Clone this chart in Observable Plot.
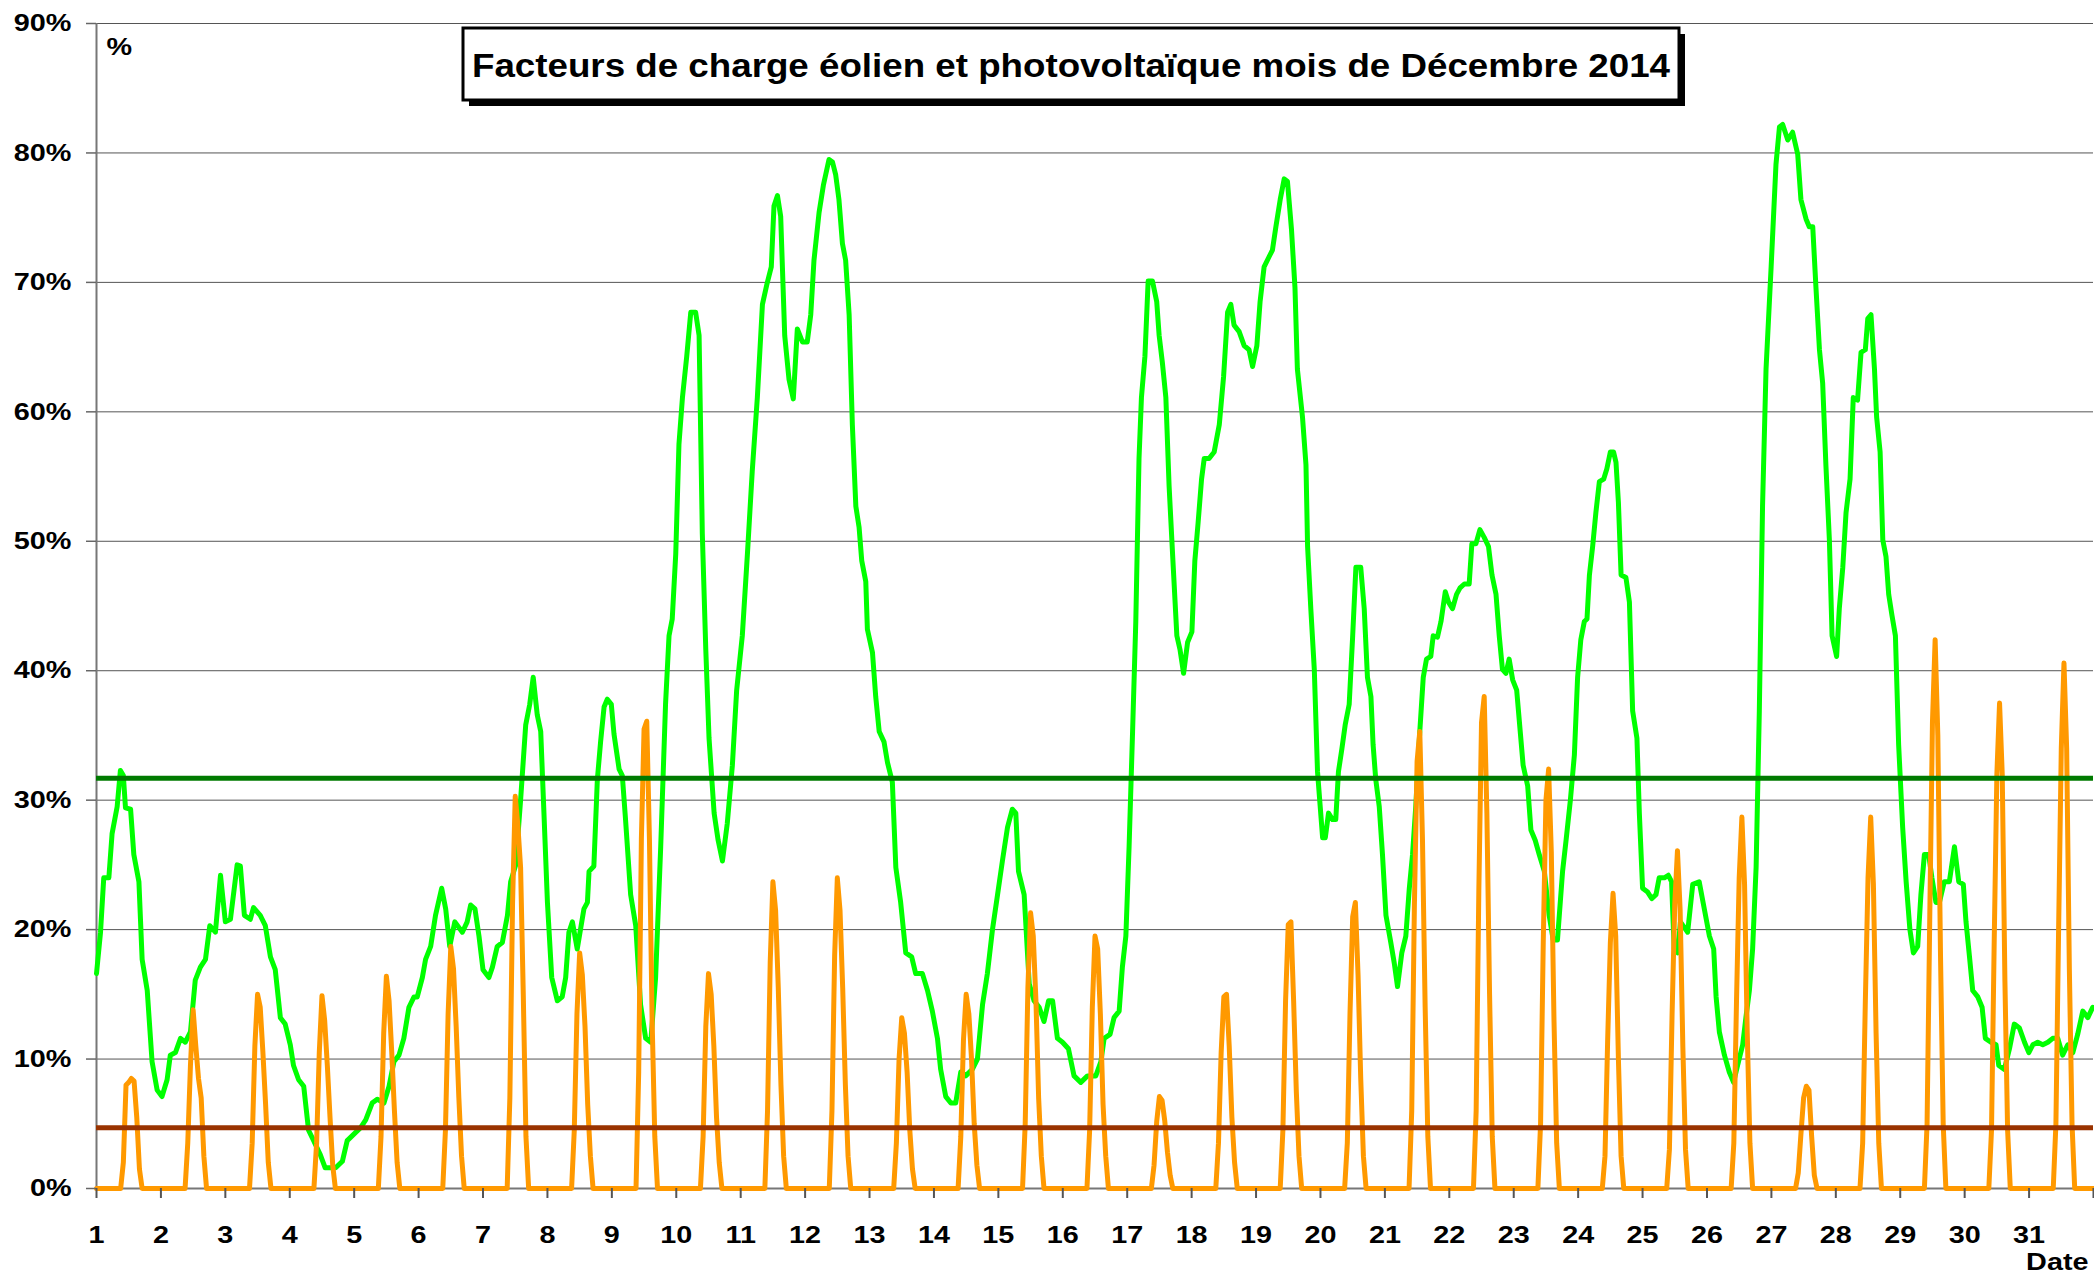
<!DOCTYPE html>
<html><head><meta charset="utf-8">
<script src="https://cdn.jsdelivr.net/npm/d3@7"></script>
<script src="https://cdn.jsdelivr.net/npm/@observablehq/plot@0.6"></script>
<style>
html,body{margin:0;padding:0;background:#fff;}
#chart{position:relative;width:2094px;height:1276px;overflow:hidden;}
</style></head><body><div id="chart"></div>
<script>
// ---------- DATA ----------
const chartTitle = "Facteurs de charge éolien et photovoltaïque mois de Décembre 2014";
const unitLabel = "%";
const xLabel = "Date";
const dayTicks = d3.range(1, 33);          // tick marks 1..32 (labels 1..31)
const dayLabels = d3.range(1, 32);
const yTicks = d3.range(0, 91, 10);        // 0%..90%
const windMean = 31.7;                     // mean wind load factor (%)
const solarMean = 4.7;                     // mean PV load factor (%)

// Wind load factor: [hours since 1 Dec 00:00, %]
const windSeries = [
[0,16.6],[1.5,19.8],[2.7,24],[4.6,24],[5.8,27.4],[7.7,29.5],[8.9,32.3],[10,31.9],[10.8,29.4],[12.7,29.3],[13.9,25.8],[15.8,23.7],[17,17.7],[18.9,15.3],[20.7,9.8],[22.6,7.6],
[24.4,7.1],[26.3,8.4],[27.5,10.3],[29.4,10.5],[31.3,11.6],[33.1,11.3],[35,12.1],[36.8,16.1],[38.7,17.1],[40.6,17.7],[42.2,20.3],[44.3,19.8],[46.2,24.2],
[48,20.6],[49.9,20.8],[52.4,25],[53.6,24.9],[55.1,21.1],[57.3,20.8],[58.5,21.7],[61,21.1],[62.9,20.3],[64.8,17.9],[66.6,16.9],[68.5,13.2],[70.3,12.7],
[72.2,11.1],[73.4,9.5],[75.3,8.4],[77.2,7.9],[79,4.5],[80.9,3.7],[83.4,2.6],[85.2,1.6],[87.1,1.6],[89.1,1.6],[91.6,2.1],[93.4,3.7],[95.9,4.2],
[98.4,4.7],[100.3,5.3],[102.7,6.6],[104.6,6.9],[107.1,6.6],[109,7.9],[110.8,9.8],[112.7,10.3],[114.5,11.6],[116.4,14],[118.3,14.8],[119.5,14.8],
[121.4,16.3],[122.6,17.7],[124.5,18.7],[126.3,21.1],[128.6,23.2],[130.1,21.6],[131.6,18.7],[133.5,20.6],[136.3,19.8],[138.1,20.6],[139.4,21.9],[141,21.6],
[142.5,19.5],[144,16.9],[146.2,16.3],[147.5,17.1],[149.3,18.7],[151.2,19],[153.1,21.1],[154.3,23.7],[156.2,25],[158,30],[159.9,35.8],[161.4,37.4],
[162.7,39.5],[164.2,36.6],[165.5,35.3],[166.7,29],[168,22.1],[169.6,16.3],[171.7,14.5],[173.5,14.8],[174.8,16.3],[176,19.8],[177.3,20.6],[179.1,18.5],
[181.6,21.6],[182.9,22.1],[183.5,24.5],[185.3,24.9],[186.6,31.6],[187.8,34.5],[189.1,37.2],[190.3,37.8],[191.8,37.4],[192.8,35.1],[194.7,32.4],[195.9,31.9],
[197.1,28.5],[199,22.7],[200.9,20.3],[202.7,14.2],[204.6,11.6],[206.5,11.3],[208.3,16.3],[210.2,26.4],[212,37.4],[213.3,42.7],[214.5,44],[215.8,49],
[217,57.5],[218.3,61.1],[219.9,64.3],[221.4,67.7],[223.2,67.7],[224.5,65.9],[225.7,50.6],[227,41.6],[228.2,34.8],[230.1,29],[231.6,26.9],[233.2,25.3],
[235,28.2],[236.9,32.7],[238.5,38.5],[240.6,42.7],[242.5,49],[244.3,55.4],[246.2,61.1],[248.1,68.3],[249.7,69.8],[251.4,71.2],[252.4,75.9],[253.7,76.7],
[254.9,75.1],[256.4,65.9],[258,62.5],[259.6,61],[261.1,66.4],[263,65.4],[264.8,65.4],[266.1,67.5],[267.3,71.7],[269.2,75.4],[270.8,77.5],
[272.9,79.5],[274.2,79.3],[275.4,78.3],[276.6,76.4],[277.9,73],[279.1,71.7],[280.4,67.5],[281.6,59],[282.9,52.7],[284.1,51.1],[285.1,48.5],[286.6,46.9],
[287.2,43.2],[289.1,41.4],[290.3,38],[291.6,35.3],[293.4,34.5],[294.7,32.9],[296.5,31.4],[297.8,24.8],[299.6,22.1],[301.5,18.2],[303.7,17.9],[305.2,16.6],
[307.7,16.6],[309.6,15.3],[311.4,13.7],[313.3,11.6],[314.5,9.2],[316.4,7.1],[318.3,6.6],[320.1,6.6],[322,9],[323.8,8.7],[326.3,9.2],[328.2,10],
[330.1,14.2],[331.9,16.6],[333.8,20],[335.7,22.7],[337.5,25.3],[339.4,27.9],[341.2,29.3],[342.5,29],[343.5,24.5],[345.6,22.7],[347.5,15.8],[349.3,14.5],
[351.2,14],[353,12.9],[354.7,14.5],[356.2,14.5],[358,11.6],[359.9,11.3],[362.1,10.8],[364.2,8.7],[366.7,8.2],[369.2,8.7],[372.3,8.7],[374.2,9.8],
[375.4,11.6],[377.6,11.9],[379.1,13.2],[381,13.7],[382.2,17.1],[383.5,19.5],[384.7,26.4],[386,35.3],[387.2,43.8],[388.4,56.4],[389.3,61.1],[390.6,64.3],
[391.8,70.1],[393.4,70.1],[395,68.5],[395.9,65.9],[397.1,63.8],[398.4,61.1],[399.6,54.3],[400.9,49],[402.5,42.7],[403.7,41.6],[405,39.8],[406.5,42.2],
[408.1,43],[409.2,48.5],[410.4,51.4],[411.7,54.8],[412.7,56.4],[414.5,56.4],[416.4,56.9],[418.3,59],[419.9,62.7],[421.4,67.7],[422.6,68.3],[423.8,66.7],
[425.7,66.2],[427.6,65.1],[429.4,64.8],[430.7,63.5],[432.3,65.1],[433.5,68.5],[435,71.2],[436.9,72],[438.1,72.5],[439.4,74.3],[441,76.4],[442.5,78],
[443.7,77.8],[445.2,74.1],[446.5,69.6],[447.4,63.3],[449.3,59.6],[450.6,55.9],[451.2,49.6],[452.4,44.8],[453.7,40.1],[454.9,32.2],[456.8,27.1],[457.8,27.1],
[459,29],[460.5,28.5],[461.7,28.5],[462.7,32.2],[464,34],[465.2,35.8],[466.7,37.4],[468,42.7],[469.2,48],[471,48],[472.3,44.8],[473.5,39.5],
[474.8,38],[475.6,34.3],[476.6,31.6],[477.9,29.5],[479.1,25.8],[480.4,21.1],[482.2,19],[483.5,17.4],[484.7,15.6],[486.3,18.2],[487.8,19.5],[489.1,23.2],
[490.3,25.8],[491.5,29.5],[493,35.3],[494.3,39.5],[495.5,40.9],[497.1,41.1],[498,42.7],[499.6,42.6],[500.9,43.8],[502.5,46.1],[503.7,45.3],[505.2,44.8],
[506.7,45.9],[508,46.4],[509.6,46.7],[511.4,46.7],[512.4,49.8],[513.9,49.8],[515.4,50.9],[517,50.3],[518.6,49.6],[519.9,47.4],[521.4,45.9],[522.6,42.7],
[523.8,40.1],[525.1,39.8],[526.3,40.9],[527.6,39.3],[529.1,38.5],[530.3,35.6],[531.5,32.7],[533.2,31.1],[534.4,27.7],[536,26.9],[537.5,25.8],[539.4,24.5],
[541.2,21.1],[542.7,19.2],[544.3,19.2],[546.2,24.5],[547.5,26.9],[549.1,30],[550.6,33.5],[551.8,39.5],[553,42.4],[554.3,43.8],[555.3,44],[556.2,47.4],
[557.4,49.6],[558.6,52.2],[559.9,54.6],[561.5,54.8],[562.7,55.6],[564,56.9],[565.2,56.9],[566.1,56.1],[567,53],[568,47.4],[569.8,47.2],[571.1,45.3],
[572.3,36.9],[573.9,34.8],[574.8,29],[576,23.2],[577.9,22.9],[579.4,22.4],[581,22.7],[582.2,24],[584.1,24],[585.6,24.2],[586.8,23.7],[587.8,18.5],
[589.1,18.2],[590.1,20.6],[592.8,19.8],[594.7,23.5],[597.1,23.7],[599,21.6],[600.9,19.5],[602.5,18.5],[603.4,14.8],[604.6,12.1],[606.5,10.3],[608.3,9],
[609.9,8.2],[611.4,9.5],[613.3,11.1],[614.5,13.2],[615.8,15.3],[617,18.5],[618.3,24.8],[619.5,36.9],[620.7,52.7],[622,63.3],[623.9,71.2],[625.7,79.1],
[627,82],[628.2,82.2],[630.1,81],[631.9,81.6],[633.8,79.9],[635,76.4],[636.9,74.9],[638.1,74.3],[639.4,74.3],[640.6,69.6],[641.9,64.8],[643.1,62.2],
[644.3,55.9],[645.6,50.1],[646.6,42.7],[648.3,41.1],[649.3,44.8],[650.6,48],[651.8,52.2],[653.3,54.8],[654.5,61.1],[656.1,60.9],[657.4,64.6],[659,64.8],
[659.9,67.2],[661.1,67.5],[662.4,63.3],[663.2,59.6],[664.5,56.9],[665.5,50.1],[666.7,48.8],[667.7,45.9],[668.9,44.3],[670.2,42.7],[671.4,34.3],[672.9,27.9],
[674.2,23.7],[675.6,20],[676.9,18.2],[678.5,18.7],[679.7,22.7],[681,25.8],[682.6,25.8],[683.8,24],[685.3,22.1],[686.6,22.1],[688.4,23.7],[690.3,23.7],
[692.2,26.4],[693.8,23.7],[695.5,23.5],[696.5,20.6],[697.8,17.9],[699,15.3],[700.9,14.8],[702.5,14],[703.7,11.6],[705.8,11.3],[707.7,11.1],[708.7,9.5],
[710.8,9.2],[712.7,10.8],[714.5,12.7],[716.4,12.4],[718.3,11.3],[719.9,10.5],[721.4,11.1],[723.2,11.3],[725.1,11.1],[727,11.3],[728.8,11.6],[730.7,11.6],
[732.5,10.3],[734.4,11.1],[736.3,10.5],[738.1,11.9],[740,13.7],[741.9,13.2],[743.7,14]
];

// PV load factor: hourly values (%) for hours 9..17 of each day; 0 at other hours
const solarHours = [9, 10, 11, 12, 13, 14, 15, 16, 17];
const solarByDay = [
[0,2,8.0,8.2,8.5,8.3,5.5,1.5,0],       // 1
[0,3.5,9.5,13.8,11,8.5,7,2.5,0],       // 2
[0,3.5,11,15,14,10.5,6.5,2,0],         // 3
[0,3.5,10.5,14.9,13,9.5,5.5,1.8,0],    // 4
[0,4,12,16.4,14.5,10.5,6,2,0],         // 5
[0,4.5,13.5,18.7,17,12.5,7,2.5,0],     // 6
[0,7,22,30.3,28,24.8,15,4,0],          // 7
[0,4.5,13.5,18.2,16.5,12.5,6.5,2.5,0], // 8
[0,9,27,35.5,36.1,27,13,4,0],          // 9
[0,4,12.5,16.6,15,11,5.5,2,0],         // 10
[0,6,17.5,23.7,21.5,15.5,8,2.5,0],     // 11
[0,6,18,24,21.5,15.5,8,2.5,0],         // 12
[0,3.5,10,13.2,12,9,4.5,1.5,0],        // 13
[0,4,11.5,15,13.5,10,5,1.8,0],         // 14
[0,5,15.5,21.3,19.5,14.5,7,2.5,0],     // 15
[0,4.5,14,19.5,18.5,13.5,6.5,2.5,0],   // 16
[0,1.8,5.2,7.1,6.8,5.2,2.8,1,0],       // 17
[0,3.5,10.5,14.8,15,11,5.5,2,0],       // 18
[0,4.5,14.5,20.4,20.6,14.5,7.5,2.5,0], // 19
[0,3.5,13.5,21,22.1,16.5,8.5,2.5,0],   // 20
[0,6,22,33,35.3,27,14,4,0],            // 21
[0,6,23,36,38,29,15,4,0],              // 22
[0,5,19,30,32.4,26,13,3.5,0],          // 23
[0,2.5,11.5,19,22.8,19.5,10,2.5,0],    // 24
[0,3,13.5,22,26.1,21.5,11,3,0],        // 25
[0,3.5,14.5,24,28.7,23.5,12,3.5,0],    // 26
[0,1.2,4.2,7,7.9,7.6,4,1,0],           // 27
[0,3.5,14.5,24,28.7,23.5,12,3.5,0],    // 28
[0,5,21,36,42.4,35,18,5,0],            // 29
[0,4.5,19,32,37.5,32,16,4.5,0],        // 30
[0,5,20,34,40.6,34,17,5,0]             // 31
];

// ---------- BUILD TABLES ----------
const wind = windSeries.map(([h, v]) => ({t: 1 + h / 24, v}));
const solar = [];
solarByDay.forEach((vals, d) => {
  for (let h = 0; h < 24; h++) {
    const k = solarHours.indexOf(h);
    solar.push({t: 1 + d + h / 24, v: k >= 0 ? vals[k] : 0});
  }
});
solar.push({t: 32, v: 0});

const FONT = "'Liberation Sans', Arial, Helvetica, sans-serif";

const chart = Plot.plot({
  width: 2094,
  height: 1276,
  marginLeft: 96,
  marginRight: 1,
  marginTop: 23,
  marginBottom: 88,
  style: {fontFamily: FONT, fontSize: "24px", fontWeight: "bold", color: "#000", background: "#fff"},
  x: {domain: [1, 32]},
  y: {domain: [0, 90]},
  marks: [
    Plot.gridY(yTicks, {stroke: "#555", strokeOpacity: 1, strokeWidth: 1}),
    Plot.ruleY([0], {stroke: "#777", strokeWidth: 2}),
    Plot.ruleX([1], {stroke: "#777", strokeWidth: 2}),
    Plot.line(wind, {x: "t", y: "v", stroke: "#00ff00", strokeWidth: 5, strokeLinejoin: "round"}),
    Plot.line(solar, {x: "t", y: "v", stroke: "#ff9900", strokeWidth: 5, strokeLinejoin: "round"}),
    Plot.ruleY([windMean], {stroke: "#007a00", strokeWidth: 5}),
    Plot.ruleY([solarMean], {stroke: "#993300", strokeWidth: 5}),
    Plot.axisY(yTicks, {tickSize: 10, tickPadding: 15, tickFormat: d => d + "%", stroke: "#666", strokeWidth: 1.5, fill: "#000", fontSize: 24, fontWeight: "bold", label: null}),
    Plot.axisX(dayTicks, {tickSize: 10, tickPadding: 27, tickFormat: d => dayLabels.includes(d) ? String(d) : "", stroke: "#555", strokeWidth: 2, fill: "#000", fontSize: 24, fontWeight: "bold", label: null}),
    Plot.text([unitLabel], {frameAnchor: "top-left", dx: 10, dy: 24, textAnchor: "start", lineAnchor: "middle", fontSize: 24, fontWeight: "bold", fill: "#000"}),
    Plot.text([xLabel], {frameAnchor: "bottom-right", dx: -5, dy: 74, textAnchor: "end", lineAnchor: "middle", fontSize: 24, fontWeight: "bold", fill: "#000"})
  ]
});

document.getElementById("chart").appendChild(chart);

// widen the bold labels like the original (stretched Arial)
chart.querySelectorAll("text").forEach(t => {
  const L = t.getComputedTextLength();
  if (L > 0) {
    t.setAttribute("textLength", (L * 1.2).toFixed(1));
    t.setAttribute("lengthAdjust", "spacingAndGlyphs");
  }
});

// title box with drop shadow
const svg = d3.select(chart);
const tb = {x: 463, y: 28, w: 1216, h: 72, shadow: 6};
const g = svg.append("g");
g.append("rect").attr("x", tb.x + tb.shadow).attr("y", tb.y + tb.shadow).attr("width", tb.w).attr("height", tb.h).attr("fill", "#000");
g.append("rect").attr("x", tb.x).attr("y", tb.y).attr("width", tb.w).attr("height", tb.h).attr("fill", "#fff").attr("stroke", "#000").attr("stroke-width", 3);
g.append("text").attr("x", tb.x + tb.w / 2).attr("y", tb.y + 49).attr("text-anchor", "middle")
  .attr("font-family", FONT).attr("font-weight", "bold").attr("font-size", 34)
  .attr("textLength", 1198).attr("lengthAdjust", "spacingAndGlyphs").attr("fill", "#000")
  .text(chartTitle);
</script>
</body></html>
